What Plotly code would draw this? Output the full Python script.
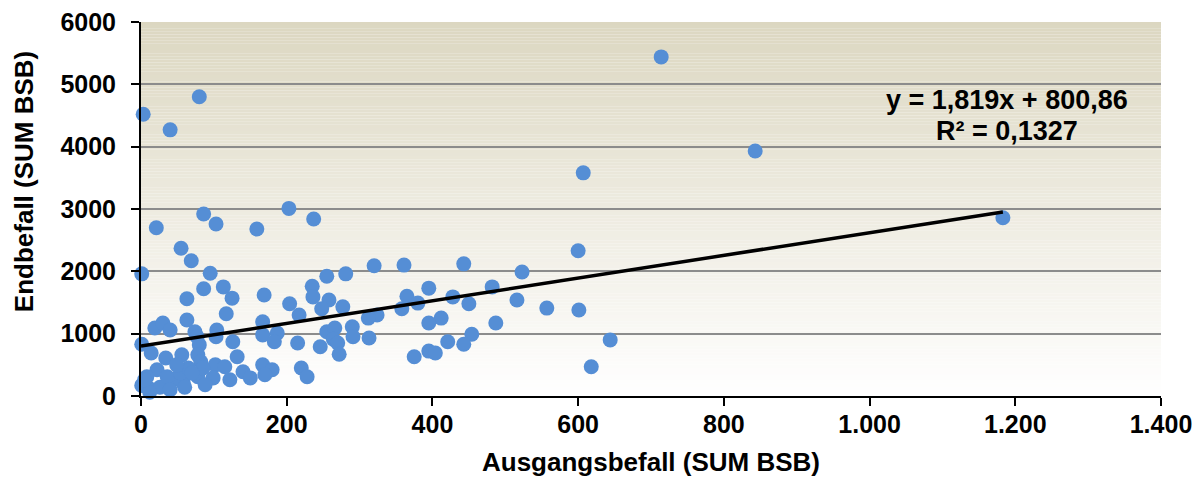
import plotly.graph_objects as go

# Ausgangsbefall / Endbefall je Standort (SUM BSB)
ausgang = [3, 40, 80, 714, 843, 607, 1183, 600, 21, 86, 103, 203, 237, 159, 1, 55, 69, 95,
           113, 125, 86, 63, 169, 204, 255, 281, 320, 361, 443, 523, 235, 236, 258, 248,
           277, 217, 324, 312, 358, 365, 395, 380, 428, 450, 482, 516, 557, 601, 412, 395,
           487, 454, 421, 443, 375, 395, 404, 644, 618, 220, 228, 117, 63, 19, 30, 40, 74,
           77, 104, 103, 167, 167, 187, 183, 1, 14, 34, 56, 80, 78, 82, 126, 132, 102, 115,
           140, 150, 167, 180, 170, 99, 78, 58, 44, 22, 8, 1, 10, 26, 36, 54, 65, 85, 49,
           255, 266, 290, 291, 313, 264, 270, 215, 246, 272, 12, 40, 60, 88, 122, 5, 70]
endbefall = [4520, 4270, 4800, 5440, 3930, 3580, 2860, 2330, 2700, 2920, 2760, 3010, 2840,
             2680, 1960, 2370, 2170, 1970, 1750, 1570, 1720, 1560, 1620, 1480, 1920, 1960,
             2090, 2100, 2120, 1990, 1760, 1590, 1540, 1400, 1430, 1300, 1300, 1250, 1400,
             1600, 1730, 1490, 1590, 1480, 1750, 1540, 1410, 1380, 1250, 1170, 1170, 990,
             870, 830, 630, 720, 690, 900, 470, 450, 310, 1320, 1220, 1090, 1170, 1060, 1030,
             950, 1060, 950, 1190, 980, 1010, 870, 830, 690, 610, 660, 820, 660, 550, 870,
             630, 500, 470, 390, 290, 500, 420, 340, 290, 310, 210, 260, 420, 310, 170, 130,
             140, 310, 370, 450, 450, 500, 1030, 1090, 1110, 950, 930, 910, 850, 850, 790,
             670, 60, 100, 140, 180, 260, 260, 370]

# lineare Trendlinie (wie im Original angegeben)
steigung = 1.819
achsenabschnitt = 800.86
trend_x = [0, max(ausgang)]
trend_y = [achsenabschnitt + steigung * v for v in trend_x]

x_ticks = [0, 200, 400, 600, 800, 1000, 1200, 1400]
y_ticks = [0, 1000, 2000, 3000, 4000, 5000, 6000]

fig = go.Figure()
fig.add_trace(go.Scatter(x=ausgang, y=endbefall, mode="markers", cliponaxis=False,
                         marker=dict(color="#558ED5", size=15, line=dict(width=0)),
                         showlegend=False))
fig.add_trace(go.Scatter(x=trend_x, y=trend_y, mode="lines", cliponaxis=False,
                         line=dict(color="black", width=3.5), showlegend=False))

# Hintergrund-Verlauf (beige oben -> weiss unten)
n = 120
oben = (220, 215, 193)
for i in range(n):
    t = (i + 0.5) / n
    c = [round(255 + (o - 255) * t) for o in oben]
    fig.add_shape(type="rect", xref="x domain", yref="y", x0=0, x1=1,
                  y0=6000 * i / n, y1=6000 * (i + 1) / n, layer="below",
                  line=dict(width=0), fillcolor=f"rgb({c[0]},{c[1]},{c[2]})")

bold = dict(family="Liberation Sans, Arial", size=25, color="black", weight="bold")
titel = dict(bold, size=26)
gleichung = dict(bold, size=27)

# Beschriftungen (Seite hat ca. 8 px Rand)
fig.add_annotation(x=0.849, y=0.7914, xref="paper", yref="paper", showarrow=False,
                   xanchor="center", yanchor="middle",
                   text="y = 1,819x + 800,86", font=gleichung)
fig.add_annotation(x=0.849, y=0.7086, xref="paper", yref="paper", showarrow=False,
                   xanchor="center", yanchor="middle",
                   text="R² = 0,1327", font=gleichung)
fig.add_annotation(x=0.5, y=-0.176, xref="paper", yref="paper", showarrow=False,
                   xanchor="center", yanchor="middle",
                   text="Ausgangsbefall (SUM BSB)", font=titel)
fig.add_annotation(x=-0.1146, y=0.572, xref="paper", yref="paper", showarrow=False,
                   xanchor="center", yanchor="middle",
                   text="Endbefall (SUM BSB)", font=titel, textangle=-90)

fig.update_layout(
    width=1196, height=469,
    margin=dict(l=133, r=43, t=14, b=81),
    paper_bgcolor="white", plot_bgcolor="rgba(0,0,0,0)",
    separators=",.",
    xaxis=dict(range=[0, 1400], tickvals=x_ticks, tickformat=",d", automargin=False,
               showgrid=False, zeroline=False, showline=True, linecolor="black", linewidth=2,
               ticks="outside", ticklen=8, tickwidth=1.5, tickcolor="black",
               tickfont=bold, ticklabelstandoff=-3, ticklabeloverflow="allow"),
    yaxis=dict(range=[0, 6000], tickvals=y_ticks, tickformat="d", automargin=False,
               showgrid=True, gridcolor="#8C8C8C", gridwidth=2, zeroline=False,
               showline=True, linecolor="black", linewidth=2,
               ticks="outside", ticklen=8, tickwidth=1.5, tickcolor="black",
               tickfont=bold, ticklabelstandoff=10, ticklabeloverflow="allow"),
)

fig.write_html("out.html")
